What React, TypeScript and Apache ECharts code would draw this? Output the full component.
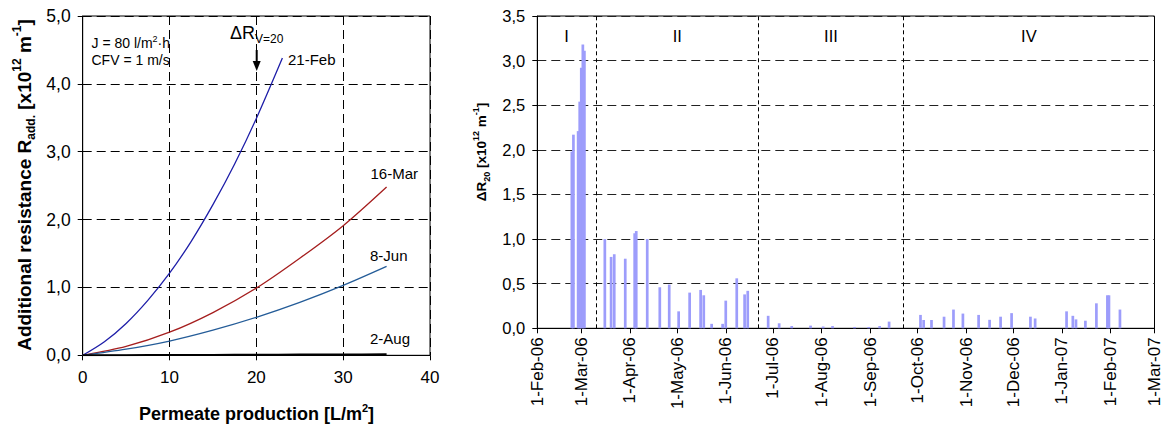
import React, { useEffect, useRef } from 'react';
import * as echarts from 'echarts';

const FONT = '"Liberation Sans", Arial, Helvetica, sans-serif';

// ---------- Left chart: additional resistance vs permeate production ----------
const feb21X = [0, 2.5, 5, 7.5, 10, 12.5, 15, 17.5, 20, 23];
const feb21Values = [0, 0.2, 0.47, 0.81, 1.21, 1.68, 2.22, 2.82, 3.49, 4.38];
const curveX = [0, 5, 10, 15, 20, 25, 30, 35];
const mar16Values = [0, 0.13, 0.34, 0.63, 0.99, 1.43, 1.91, 2.48];
const jun8Values = [0, 0.09, 0.21, 0.37, 0.56, 0.78, 1.03, 1.31];
const aug2Values = [0, 0.002, 0.004, 0.006, 0.008, 0.01, 0.012, 0.015];
const curveNames = ['21-Feb', '16-Mar', '8-Jun', '2-Aug'];

// ---------- Right chart: ΔR20 over time ----------
const monthTickDates = [
  '2006-02-01', '2006-03-01', '2006-04-01', '2006-05-01', '2006-06-01', '2006-07-01', '2006-08-01',
  '2006-09-01', '2006-10-01', '2006-11-01', '2006-12-01', '2007-01-01', '2007-02-01', '2007-03-01',
];
const monthTickLabels = [
  '1-Feb-06', '1-Mar-06', '1-Apr-06', '1-May-06', '1-Jun-06', '1-Jul-06', '1-Aug-06',
  '1-Sep-06', '1-Oct-06', '1-Nov-06', '1-Dec-06', '1-Jan-07', '1-Feb-07', '1-Mar-07',
];
const barDates = [
  // phase I
  '2006-02-23', '2006-02-24', '2006-02-27', '2006-02-28', '2006-03-01', '2006-03-02', '2006-03-03',
  // phase II
  '2006-03-16', '2006-03-20', '2006-03-22', '2006-03-29', '2006-04-04', '2006-04-05', '2006-04-12',
  '2006-04-20', '2006-04-26', '2006-05-02', '2006-05-09', '2006-05-16', '2006-05-18', '2006-05-23',
  '2006-05-30', '2006-06-01', '2006-06-08', '2006-06-13', '2006-06-15',
  // phase III
  '2006-06-28', '2006-07-05', '2006-07-13', '2006-07-25', '2006-08-02', '2006-08-08', '2006-08-22',
  '2006-08-31', '2006-09-07', '2006-09-13',
  // phase IV
  '2006-10-03', '2006-10-05', '2006-10-10', '2006-10-18', '2006-10-24', '2006-10-30', '2006-11-09',
  '2006-11-16', '2006-11-23', '2006-11-30', '2006-12-12', '2006-12-15', '2007-01-04', '2007-01-08',
  '2007-01-10', '2007-01-16', '2007-01-23', '2007-01-30', '2007-01-31', '2007-02-07',
];
const barValues = [
  1.98, 2.17, 2.21, 2.54, 2.92, 3.18, 3.11,
  1.0, 0.8, 0.83, 0.78, 1.065, 1.09, 1.0,
  0.46, 0.49, 0.19, 0.4, 0.43, 0.37, 0.05,
  0.05, 0.31, 0.56, 0.38, 0.42,
  0.14, 0.056, 0.025, 0.03, 0.02, 0.025, 0.015,
  0.015, 0.025, 0.075,
  0.15, 0.093, 0.093, 0.13, 0.21, 0.165, 0.15,
  0.095, 0.13, 0.17, 0.13, 0.11, 0.19, 0.14,
  0.1, 0.085, 0.28, 0.37, 0.37, 0.21,
];
const phaseNames = ['I', 'II', 'III', 'IV'];
const phaseBoundaryDays = [0, 37.3, 141, 233, 393];

const START = Date.UTC(2006, 1, 1);
const dayOf = (s: string) => {
  const [y, m, d] = s.split('-').map(Number);
  return Math.round((Date.UTC(y, m - 1, d) - START) / 86400000);
};
const comma = (v: number) => v.toFixed(1).replace('.', ',');

export default function App() {
  const ref = useRef<HTMLDivElement>(null);

  useEffect(() => {
    if (!ref.current) return;
    const chart = echarts.init(ref.current, null, { renderer: 'svg' });

    const monthDays = monthTickDates.map(dayOf);
    const zip = (xs: number[], ys: number[]) => xs.map((x, i) => [x, ys[i]]);

    const axisCommon = {
      axisLine: { show: true, onZero: false, lineStyle: { color: '#000', width: 1 } },
      axisTick: { show: true, inside: false, length: 5, lineStyle: { color: '#000' } },
    };

    const bold = { fontFamily: FONT, fontWeight: 'bold' as const, fill: '#000' };
    const mk = (size: number, extra: any = {}) => ({ fontFamily: FONT, fontSize: size, fill: '#000', ...extra });

    const option: any = {
      animation: false,
      backgroundColor: '#fff',
      textStyle: { fontFamily: FONT },
      grid: [
        { left: 82.7, top: 16, width: 347.3, height: 339.3, show: true, borderColor: '#000', borderWidth: 1 },
        { left: 537.3, top: 16, width: 618.7, height: 312.3, show: true, borderColor: '#000', borderWidth: 1 },
      ],
      xAxis: [
        {
          type: 'value', gridIndex: 0, min: 0, max: 40, interval: 10,
          ...axisCommon,
          axisLabel: { fontSize: 17, color: '#000', margin: 14, fontFamily: FONT },
          splitLine: { show: true, lineStyle: { color: '#000', type: [9, 5], width: 1 } },
        },
        {
          type: 'value', gridIndex: 1, min: 0, max: 393,
          ...axisCommon,
          axisTick: { show: true, length: 5, lineStyle: { color: '#000' }, customValues: monthDays },
          axisLabel: {
            fontSize: 17, color: '#000', margin: 9, rotate: 90, fontFamily: FONT,
            customValues: monthDays,
            formatter: (v: number) => {
              const i = monthDays.indexOf(Math.round(v));
              return i >= 0 ? monthTickLabels[i] : '';
            },
          },
          splitLine: { show: false },
        },
      ],
      yAxis: [
        {
          type: 'value', gridIndex: 0, min: 0, max: 5, interval: 1,
          ...axisCommon,
          axisLabel: { fontSize: 17.5, color: '#000', margin: 12, fontFamily: FONT, formatter: comma },
          splitLine: { show: true, lineStyle: { color: '#000', type: [9, 5], width: 1 } },
        },
        {
          type: 'value', gridIndex: 1, min: 0, max: 3.5, interval: 0.5,
          ...axisCommon,
          axisLabel: { fontSize: 16.5, color: '#000', margin: 12, fontFamily: FONT, formatter: comma },
          splitLine: { show: true, lineStyle: { color: '#222', type: [9, 5], width: 1 } },
        },
      ],
      series: [
        {
          name: curveNames[0], type: 'line', xAxisIndex: 0, yAxisIndex: 0, smooth: 0.3, symbol: 'none',
          data: zip(feb21X, feb21Values), lineStyle: { color: '#1e1ea8', width: 1.3 },
        },
        {
          name: curveNames[1], type: 'line', xAxisIndex: 0, yAxisIndex: 0, smooth: 0.3, symbol: 'none',
          data: zip(curveX, mar16Values), lineStyle: { color: '#a51e1e', width: 1.3 },
        },
        {
          name: curveNames[2], type: 'line', xAxisIndex: 0, yAxisIndex: 0, smooth: 0.3, symbol: 'none',
          data: zip(curveX, jun8Values), lineStyle: { color: '#245c98', width: 1.3 },
        },
        {
          name: curveNames[3], type: 'line', xAxisIndex: 0, yAxisIndex: 0, smooth: 0.3, symbol: 'none',
          data: zip(curveX, aug2Values), lineStyle: { color: '#000', width: 2 },
        },
        {
          name: 'ΔR20', type: 'bar', xAxisIndex: 1, yAxisIndex: 1, barWidth: 2.7,
          data: zip(barDates.map(dayOf), barValues),
          itemStyle: { color: '#9d9dfb' },
          markLine: {
            silent: true, symbol: ['none', 'none'],
            label: { show: false },
            lineStyle: { color: '#000', type: [4, 3], width: 1 },
            data: phaseBoundaryDays.slice(1, -1).map((d) => ({ xAxis: d })),
          },
          markArea: {
            silent: true,
            itemStyle: { color: 'rgba(0,0,0,0)' },
            label: { show: true, position: 'insideTop', distance: 11, fontSize: 16.5, color: '#000', fontFamily: FONT },
            data: phaseNames.map((n, i) => [
              { name: n, xAxis: phaseBoundaryDays[i] },
              { xAxis: phaseBoundaryDays[i + 1] },
            ]),
          },
        },
      ],
      graphic: [
        {
          type: 'text', x: 24, y: 185, rotation: Math.PI / 2,
          style: {
            text: '{b|Additional resistance R}{s|add.}{b| [x10}{p|12}{b| m}{p|-1}{b|]}',
            align: 'center', verticalAlign: 'middle',
            rich: {
              b: { ...bold, fontSize: 19, lineHeight: 26 },
              s: { ...bold, fontSize: 12, verticalAlign: 'bottom' },
              p: { ...bold, fontSize: 12, verticalAlign: 'top' },
            },
          },
        },
        {
          type: 'text', x: 256.5, y: 414,
          style: {
            text: '{b|Permeate production [L/m}{p|2}{b|]}',
            align: 'center', verticalAlign: 'middle',
            rich: {
              b: { ...bold, fontSize: 18, lineHeight: 24 },
              p: { ...bold, fontSize: 11, verticalAlign: 'top' },
            },
          },
        },
        {
          type: 'text', x: 481, y: 152, rotation: Math.PI / 2,
          style: {
            text: '{b|ΔR}{s|20}{b| [x10}{p|12}{b| m}{p|-1}{b|]}',
            align: 'center', verticalAlign: 'middle',
            rich: {
              b: { ...bold, fontSize: 13.5, lineHeight: 20 },
              s: { ...bold, fontSize: 9, verticalAlign: 'bottom' },
              p: { ...bold, fontSize: 9, verticalAlign: 'top' },
            },
          },
        },
        {
          type: 'text', x: 91.5, y: 43,
          style: {
            text: '{a|J = 80 l/m}{p|2}{a|·h}',
            align: 'left', verticalAlign: 'middle',
            rich: { a: mk(14, { lineHeight: 18 }), p: mk(9, { verticalAlign: 'top' }) },
          },
        },
        {
          type: 'text', x: 91.5, y: 59.5,
          style: { text: 'CFV = 1 m/s', align: 'left', verticalAlign: 'middle', ...mk(14) },
        },
        {
          type: 'text', x: 230, y: 33,
          style: {
            text: '{a|ΔR}{s|V=20}',
            align: 'left', verticalAlign: 'middle',
            rich: { a: mk(18, { lineHeight: 24 }), s: mk(12, { verticalAlign: 'bottom' }) },
          },
        },
        {
          type: 'line', shape: { x1: 256.7, y1: 50, x2: 256.7, y2: 63 },
          style: { stroke: '#000', lineWidth: 2 },
        },
        {
          type: 'polygon', shape: { points: [[252.7, 61], [260.7, 61], [256.7, 71]] },
          style: { fill: '#000' },
        },
        { type: 'text', x: 288, y: 59.5, style: { text: curveNames[0], align: 'left', verticalAlign: 'middle', ...mk(15) } },
        { type: 'text', x: 370.5, y: 173, style: { text: curveNames[1], align: 'left', verticalAlign: 'middle', ...mk(15) } },
        { type: 'text', x: 370, y: 255, style: { text: curveNames[2], align: 'left', verticalAlign: 'middle', ...mk(15) } },
        { type: 'text', x: 370, y: 338, style: { text: curveNames[3], align: 'left', verticalAlign: 'middle', ...mk(15) } },
      ],
    };

    chart.setOption(option);
    return () => chart.dispose();
  }, []);

  return (
    <div
      ref={ref}
      style={{ position: 'fixed', left: 0, top: 0, width: 1163, height: 425, background: '#fff' }}
    />
  );
}
